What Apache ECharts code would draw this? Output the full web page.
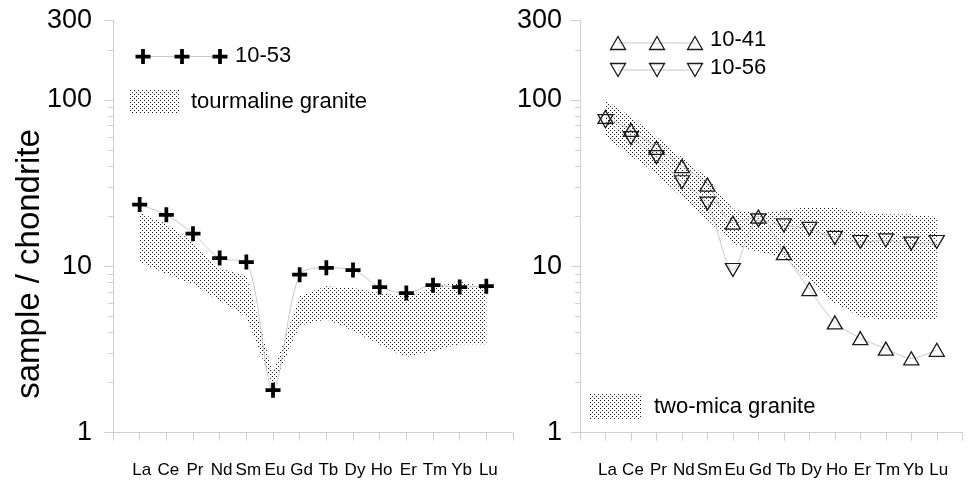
<!DOCTYPE html>
<html><head><meta charset="utf-8">
<script src="https://cdn.jsdelivr.net/npm/echarts@6/dist/echarts.min.js"></script>
<style>html,body{margin:0;padding:0;background:#fff}#c{width:972px;height:487px}</style>
</head><body><div id="c"></div>
<script>
const elements = ['La','Ce','Pr','Nd','Sm','Eu','Gd','Tb','Dy','Ho','Er','Tm','Yb','Lu'];
const yMajorTicks = [1, 10, 100, 300];
const yMinorTicks = [2,3,4,5,6,7,8,9,20,30,40,50,60,70,80,90,200];
const s1053 = [23.5, 20.4, 15.7, 11.2, 10.6, 1.8, 8.9, 9.8, 9.5, 7.5, 6.9, 7.7, 7.5, 7.6];
const tourmUpper = [21, 18, 14, 9.7, 8.8, 2.3, 6.6, 7.6, 7.4, 6.9, 6.6, 7.5, 8.1, 7.5];
const tourmLower = [10.6, 9.0, 7.8, 6.2, 5.0, 1.9, 4.4, 4.8, 4.1, 3.4, 2.85, 3.1, 3.4, 3.4];
const s1041 = [79, 66, 51.5, 40, 31, 18.3, 19.9, 12, 7.3, 4.6, 3.7, 3.2, 2.8, 3.15];
const s1056 = [74.5, 59, 45.3, 32, 23.8, 9.5, 18.9, 17.6, 16.8, 14.8, 14, 14.3, 13.7, 14];
const micaUpper = [100, 79, 60, 45, 34, 22, 20.7, 21.7, 22.7, 22.5, 21.2, 20.5, 20.5, 19.8];
const micaLower = [60, 46, 36, 26, 19, 13.7, 12.2, 11.4, 8.2, 6, 5, 4.75, 4.75, 4.75];

const xCats = [' '].concat(elements, ['  ']);
const FONT = 'Liberation Sans, Arial, sans-serif';
const AXC = '#cfcfcf';
const CROSS = 'M3,0H5V3H8V5H5V8H3V5H0V3H3Z';
const CROSS_PTS = [[3,0],[5,0],[5,3],[8,3],[8,5],[5,5],[5,8],[3,8],[3,5],[0,5],[0,3],[3,3]];

function makePattern() {
  const c = document.createElement('canvas');
  c.width = 4; c.height = 4;
  const g = c.getContext('2d');
  g.fillStyle = '#1a1a1a';
  g.fillRect(0, 0, 1, 1);
  g.fillRect(2, 2, 1, 1);
  return c;
}
const pat = {image: makePattern(), repeat: 'repeat'};

function xAxis(g) {
  return {type: 'category', gridIndex: g, data: xCats, boundaryGap: false,
    axisLine: {onZero: false, lineStyle: {color: AXC, width: 1}},
    axisTick: {show: true, interval: 0, length: 8, lineStyle: {color: AXC}},
    axisLabel: {interval: 0, color: '#000', fontSize: 17, fontFamily: FONT, margin: 29, padding: [0, 0, 0, 4]},
    splitLine: {show: false}};
}
function yAxisMajor(g, margin) {
  return {type: 'log', logBase: 10, gridIndex: g, min: 1, max: 300, position: 'left',
    axisLine: {show: true, lineStyle: {color: AXC}},
    axisTick: {show: true, length: 9, customValues: yMajorTicks, lineStyle: {color: AXC}},
    axisLabel: {customValues: yMajorTicks, color: '#000', fontSize: 27, fontFamily: FONT, margin: margin,
      formatter: v => String(Math.round(v))},
    splitLine: {show: false}, minorTick: {show: false}};
}
function yAxisMinor(g) {
  return {type: 'log', logBase: 10, gridIndex: g, min: 1, max: 300, position: 'left', offset: 0,
    axisLine: {show: false},
    axisTick: {show: true, length: 5, customValues: yMinorTicks, lineStyle: {color: AXC}},
    axisLabel: {show: false}, splitLine: {show: false}, minorTick: {show: false}};
}
function bandSeries(xi, yi, upper, lower) {
  return {type: 'custom', xAxisIndex: xi, yAxisIndex: yi, silent: true, z: 1,
    data: elements.map((e, i) => [i + 1, lower[i], upper[i]]),
    encode: {x: 0, y: [1, 2]},
    renderItem(params, api) {
      if (params.dataIndex !== 0) return null;
      const pts = [];
      for (let i = 0; i < upper.length; i++) pts.push(api.coord([i + 1, upper[i]]));
      for (let i = lower.length - 1; i >= 0; i--) pts.push(api.coord([i + 1, lower[i]]));
      return {type: 'polygon', shape: {points: pts}, style: {fill: pat, stroke: null}};
    }};
}
function lineSeries(xi, yi, vals, sym) {
  return Object.assign({type: 'line', xAxisIndex: xi, yAxisIndex: yi, z: 3, smooth: 0.3,
    data: elements.map((e, i) => [i + 1, vals[i]]),
    lineStyle: {color: '#c8c8c8', width: 1}}, sym);
}
const crossSym = {symbol: 'path://' + CROSS, symbolSize: 15, itemStyle: {color: '#000'}};
const triUp = {symbol: 'triangle', symbolSize: [15, 13],
  itemStyle: {color: 'rgba(255,255,255,0)', borderColor: '#1a1a1a', borderWidth: 1.3}};
const triDown = Object.assign({}, triUp, {symbolRotate: 180});

function crossG(cx, cy) {
  const k = 15 / 8;
  return {type: 'polygon', shape: {points: CROSS_PTS.map(p => [cx - 7.5 + p[0] * k, cy - 7.5 + p[1] * k])},
    style: {fill: '#000'}};
}
function triG(cx, cy, down) {
  const h = 6.5, w = 7.5;
  const pts = down ? [[cx - w, cy - h], [cx + w, cy - h], [cx, cy + h]]
                   : [[cx, cy - h], [cx + w, cy + h], [cx - w, cy + h]];
  return {type: 'polygon', shape: {points: pts}, style: {fill: 'none', stroke: '#1a1a1a', lineWidth: 1.3}};
}
function textG(x, y, t, fs) {
  return {type: 'text', x: x, y: y, style: {text: t, fontSize: fs, fontFamily: FONT, fill: '#000',
    align: 'left', verticalAlign: 'middle'}};
}
function lineG(x1, x2, y) {
  return {type: 'line', shape: {x1: x1, y1: y, x2: x2, y2: y}, style: {stroke: '#c8c8c8', lineWidth: 1}};
}

const chart = echarts.init(document.getElementById('c'));
chart.setOption({
  animation: false,
  textStyle: {fontFamily: FONT},
  grid: [{left: 113, top: 20.5, width: 400, height: 412.2},
         {left: 580, top: 20.5, width: 400, height: 412.2}],
  xAxis: [xAxis(0), xAxis(1)],
  yAxis: [yAxisMajor(0, 21), yAxisMinor(0), yAxisMajor(1, 18), yAxisMinor(1)],
  series: [
    bandSeries(0, 0, tourmUpper, tourmLower),
    lineSeries(0, 0, s1053, crossSym),
    bandSeries(1, 2, micaUpper, micaLower),
    lineSeries(1, 2, s1041, triUp),
    lineSeries(1, 2, s1056, triDown)
  ],
  graphic: [
    {type: 'text', x: 30, y: 264, rotation: Math.PI / 2,
      style: {text: 'sample / chondrite', fontSize: 33, fontFamily: FONT, fill: '#000', align: 'center', verticalAlign: 'middle'}},
    lineG(143, 220, 56.5), crossG(143, 56.5), crossG(182, 56.5), crossG(220, 56.5),
    textG(235, 56, '10-53', 22),
    {type: 'rect', shape: {x: 129.5, y: 89, width: 50.5, height: 24.5}, style: {fill: pat}},
    textG(191, 102, 'tourmaline granite', 22),
    lineG(618, 695, 43), triG(618, 43, false), triG(657, 43, false), triG(695, 43, false),
    textG(710, 40, '10-41', 22),
    lineG(618, 695, 70), triG(618, 70, true), triG(657, 70, true), triG(695, 70, true),
    textG(710, 68, '10-56', 22),
    {type: 'rect', shape: {x: 590, y: 394, width: 51, height: 25}, style: {fill: pat}},
    textG(654, 407, 'two-mica granite', 22)
  ]
});
</script></body></html>
